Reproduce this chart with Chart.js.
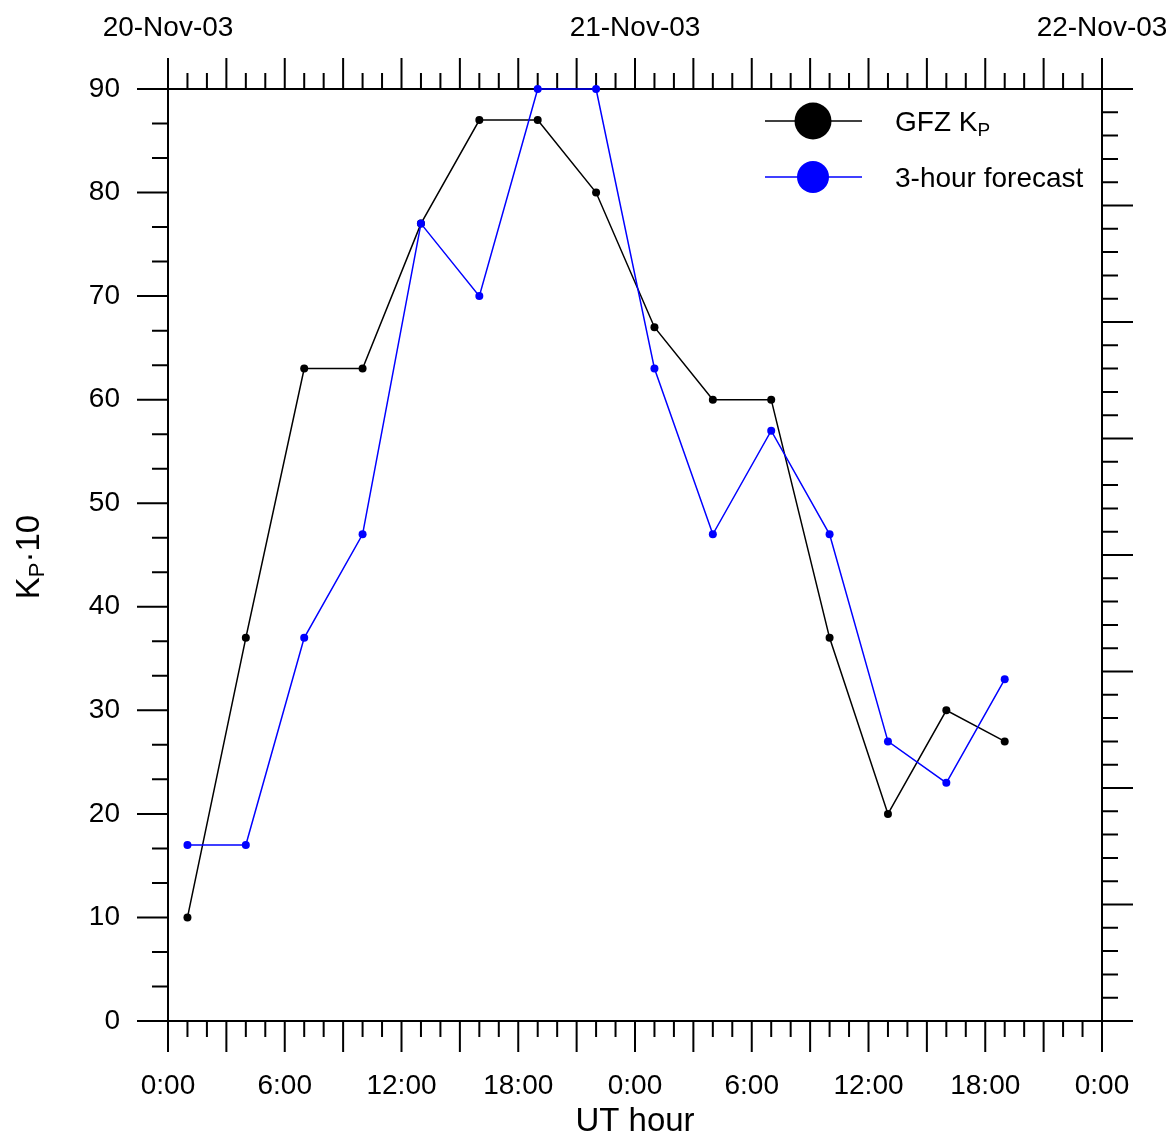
<!DOCTYPE html>
<html>
<head>
<meta charset="utf-8">
<script src="https://cdn.jsdelivr.net/npm/chart.js@4.4.1/dist/chart.umd.min.js"></script>
<style>
  html, body { margin: 0; padding: 0; background: #fff; }
  #wrap { width: 1166px; height: 1133px; }
</style>
</head>
<body>
<div id="wrap"><canvas id="kp-chart"></canvas></div>
<script>
// UT hours since 20-Nov-03 0:00 (mid points of the 3-hour intervals)
const hours = [1, 4, 7, 10, 13, 16, 19, 22, 25, 28, 31, 34, 37, 40, 43];
const gfzKp = [10, 37, 63, 63, 77, 87, 87, 80, 67, 60, 60, 37, 20, 30, 27];
const forecastKp = [17, 17, 37, 47, 77, 70, 90, 90, 63, 47, 57, 47, 27, 23, 33];
const dayLabels = ['20-Nov-03', '21-Nov-03', '22-Nov-03'];
const hourLabels = ['0:00', '6:00', '12:00', '18:00'];

const FONT = '"Liberation Sans", Arial, sans-serif';

function toPoints(xs, ys) {
    return xs.map((h, i) => ({ x: h, y: ys[i] }));
}

// keep the plot box fixed, labels may hang over the edges
function fixBox(w, h) {
    return s => {
        if (w !== null) s.width = w;
        if (h !== null) s.height = h;
        s.paddingLeft = 0;
        s.paddingRight = 0;
        s.paddingTop = 0;
        s.paddingBottom = 0;
    };
}

// axis lines and tick marks on all four sides
const frameAxes = {
    id: 'frameAxes',
    beforeDatasetsDraw(chart) {
        const { ctx, chartArea: a, scales } = chart;
        const long = 31, short = 16;
        ctx.save();
        ctx.strokeStyle = '#000';
        ctx.lineWidth = 2;
        ctx.beginPath();
        ctx.rect(a.left, a.top, a.right - a.left, a.bottom - a.top);
        for (let h = 0; h <= 48; h++) {
            const px = scales.x.getPixelForValue(h);
            const len = h % 3 === 0 ? long : short;
            ctx.moveTo(px, a.bottom); ctx.lineTo(px, a.bottom + len);
            ctx.moveTo(px, a.top); ctx.lineTo(px, a.top - len);
        }
        for (let i = 0; i <= 27; i++) {
            const py = scales.y.getPixelForValue(i * 10 / 3);
            const len = i % 3 === 0 ? long : short;
            ctx.moveTo(a.left, py); ctx.lineTo(a.left - len, py);
        }
        for (let i = 0; i <= 40; i++) {
            const py = scales.y2.getPixelForValue(i / 5);
            const len = i % 5 === 0 ? long : short;
            ctx.moveTo(a.right, py); ctx.lineTo(a.right + len, py);
        }
        ctx.stroke();
        ctx.restore();
    },
    afterDraw(chart) {
        const ctx = chart.ctx;
        ctx.save();
        ctx.fillStyle = '#000';
        ctx.textBaseline = 'alphabetic';

        // y title: K_P·10, rotated
        ctx.translate(39, 557);
        ctx.rotate(-Math.PI / 2);
        ctx.font = '33px ' + FONT;
        const wK = ctx.measureText('K').width;
        const wRest = ctx.measureText('\u00b710').width;
        ctx.font = '22px ' + FONT;
        const wP = ctx.measureText('P').width;
        let x0 = -(wK + wP + wRest) / 2;
        ctx.font = '33px ' + FONT;
        ctx.fillText('K', x0, 0);
        ctx.font = '22px ' + FONT;
        ctx.fillText('P', x0 + wK, 5);
        ctx.font = '33px ' + FONT;
        ctx.fillText('\u00b710', x0 + wK + wP, 0);
        ctx.restore();

        // legend
        ctx.save();
        const rows = [
            { ds: chart.data.datasets[1], y: 121, r: 18.5 },
            { ds: chart.data.datasets[0], y: 177, r: 16 }
        ];
        rows.forEach(row => {
            ctx.strokeStyle = row.ds.borderColor;
            ctx.fillStyle = row.ds.borderColor;
            ctx.lineWidth = 1.4;
            ctx.beginPath();
            ctx.moveTo(765, row.y); ctx.lineTo(862, row.y);
            ctx.stroke();
            ctx.beginPath();
            ctx.arc(813, row.y, row.r, 0, Math.PI * 2);
            ctx.fill();
        });
        ctx.fillStyle = '#000';
        ctx.textBaseline = 'alphabetic';
        ctx.font = '28px ' + FONT;
        ctx.fillText('GFZ K', 895, 131);
        const wG = ctx.measureText('GFZ K').width;
        ctx.font = '19px ' + FONT;
        ctx.fillText('P', 895 + wG, 136);
        ctx.font = '28px ' + FONT;
        ctx.fillText('3-hour forecast', 895, 187);
        ctx.restore();
    }
};

const ctx = document.getElementById('kp-chart').getContext('2d');

const kpChart = new Chart(ctx, {
    type: 'line',
    data: {
        datasets: [{
            label: '3-hour forecast',
            data: toPoints(hours, forecastKp),
            borderColor: '#0000ff',
            backgroundColor: '#0000ff',
            borderWidth: 1.5,
            pointRadius: 4,
            pointHoverRadius: 4,
            pointBorderWidth: 0,
            clip: false,
            order: 0
        }, {
            label: 'GFZ Kp',
            data: toPoints(hours, gfzKp),
            borderColor: '#000000',
            backgroundColor: '#000000',
            borderWidth: 1.5,
            pointRadius: 4,
            pointHoverRadius: 4,
            pointBorderWidth: 0,
            clip: false,
            order: 1
        }]
    },
    options: {
        responsive: true,
        maintainAspectRatio: false,
        animation: false,
        events: [],
        layout: { padding: 0 },
        plugins: {
            legend: { display: false },
            tooltip: { enabled: false }
        },
        scales: {
            x: {
                type: 'linear',
                position: 'bottom',
                min: 0,
                max: 48,
                grid: { display: false },
                border: { display: false },
                ticks: {
                    stepSize: 6,
                    autoSkip: false,
                    maxRotation: 0,
                    padding: 40,
                    color: '#000',
                    font: { family: FONT, size: 28 },
                    callback: v => hourLabels[(v % 24) / 6]
                },
                title: {
                    display: true,
                    text: 'UT hour',
                    color: '#000',
                    font: { family: FONT, size: 33, lineHeight: 1 },
                    padding: { top: 0, bottom: -5 }
                },
                afterFit: fixBox(null, 112)
            },
            x2: {
                type: 'linear',
                position: 'top',
                min: 0,
                max: 48,
                grid: { display: false },
                border: { display: false },
                ticks: {
                    stepSize: 24,
                    autoSkip: false,
                    maxRotation: 0,
                    padding: 36,
                    color: '#000',
                    font: { family: FONT, size: 28 },
                    callback: v => dayLabels[v / 24]
                },
                afterFit: fixBox(null, 89)
            },
            y: {
                type: 'linear',
                position: 'left',
                min: 0,
                max: 90,
                grid: { display: false },
                border: { display: false },
                ticks: {
                    stepSize: 10,
                    padding: 40,
                    color: '#000',
                    font: { family: FONT, size: 28 }
                },
                afterFit: fixBox(168, null)
            },
            y2: {
                type: 'linear',
                position: 'right',
                min: 0,
                max: 8,
                grid: { display: false },
                border: { display: false },
                ticks: { display: false, stepSize: 1 },
                afterFit: fixBox(64, null)
            }
        }
    },
    plugins: [frameAxes]
});
</script>
</body>
</html>
